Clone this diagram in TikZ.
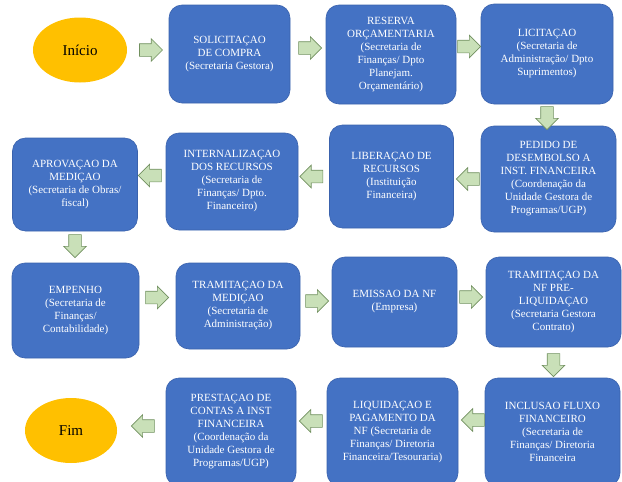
\documentclass[tikz,border=0pt]{standalone}
\usepackage{fontspec}
\setmainfont{Liberation Serif}
\usepackage{xcolor}
\usepackage{tikz}
\usetikzlibrary{shapes.geometric}
\usetikzlibrary{shapes.arrows}
\usetikzlibrary {positioning}
\definecolor{stepblue}{HTML}{4472C4}
\definecolor{stepedge}{HTML}{3A62AD}
\definecolor{endyellow}{HTML}{FFC000}
\definecolor{arrowgreen}{HTML}{C9E0B8}
\definecolor{arrowedge}{HTML}{71905F}
\tikzset{step node/.style={rectangle,rounded corners=13pt,fill=stepblue,draw=stepedge,line width=0.6pt,text=white,align=center,inner sep=2pt,font=\fontsize{11}{13}\selectfont}}
\tikzset{end node/.style={ellipse,fill=endyellow,draw=none,inner sep=0pt,font=\fontsize{15}{17}\selectfont}}
\tikzset{flow arrow/.style={single arrow,fill=arrowgreen,draw=arrowedge,line width=0.6pt,inner sep=6pt,minimum height=23pt,minimum width=22pt,single arrow head extend=5pt}}

\begin{document}
\begin{tikzpicture}[x=1pt,y=-1pt]
	\useasboundingbox (0,0) rectangle (622,482);
	\clip (0,0) rectangle (622,482);
	\node[end node,minimum width=94pt,minimum height=65pt] (v_{1}) at (80,50) {Início};
	\node[step node,minimum width=121pt,minimum height=98pt] (v_{2}) at (229.5,54) {SOLICITAÇAO\\DE COMPRA\\(Secretaria Gestora)};
	\node[step node,minimum width=130pt,minimum height=99pt] (v_{3}) at (391,54.5) {RESERVA\\ORÇAMENTARIA\\(Secretaria de\\Finanças/ Dpto\\Planejam.\\Orçamentário)};
	\node[step node,minimum width=132pt,minimum height=100pt] (v_{4}) at (547,54) {LICITAÇAO\\(Secretaria de\\Administração/ Dpto\\Suprimentos)};
	\node[step node,minimum width=135pt,minimum height=106pt] (v_{5}) at (548.5,179) {PEDIDO DE\\DESEMBOLSO A\\INST. FINANCEIRA\\(Coordenação da\\Unidade Gestora de\\Programas/UGP)};
	\node[step node,minimum width=124pt,minimum height=103pt] (v_{6}) at (391.5,176.5) {LIBERAÇAO DE\\RECURSOS\\(Instituição\\Financeira)};
	\node[step node,minimum width=132pt,minimum height=97pt] (v_{7}) at (232,181.5) {INTERNALIZAÇAO\\DOS RECURSOS\\(Secretaria de\\Finanças/ Dpto.\\Financeiro)};
	\node[step node,minimum width=125pt,minimum height=93pt] (v_{8}) at (75,184.5) {APROVAÇAO DA\\MEDIÇAO\\(Secretaria de Obras/\\fiscal)};
	\node[step node,minimum width=127pt,minimum height=95pt] (v_{9}) at (75.5,310.5) {EMPENHO\\(Secretaria de\\Finanças/\\Contabilidade)};
	\node[step node,minimum width=124pt,minimum height=86pt] (v_{10}) at (238,306) {TRAMITAÇAO DA\\MEDIÇAO\\(Secretaria de\\Administração)};
	\node[step node,minimum width=125pt,minimum height=90pt] (v_{11}) at (394.5,302) {EMISSAO DA NF\\(Empresa)};
	\node[step node,minimum width=135pt,minimum height=90pt] (v_{12}) at (553.5,302) {TRAMITAÇAO DA\\NF PRE-\\LIQUIDAÇAO\\(Secretaria Gestora\\Contrato)};
	\node[step node,minimum width=135pt,minimum height=108pt] (v_{13}) at (552.5,432) {INCLUSAO FLUXO\\FINANCEIRO\\(Secretaria de\\Finanças/ Diretoria\\Financeira};
	\node[step node,minimum width=131pt,minimum height=108pt] (v_{14}) at (392.5,432) {LIQUIDAÇAO E\\PAGAMENTO DA\\NF (Secretaria de\\Finanças/ Diretoria\\Financeira/Tesouraria)};
	\node[step node,minimum width=130pt,minimum height=108pt] (v_{15}) at (231,432) {PRESTAÇAO DE\\CONTAS A INST\\FINANCEIRA\\(Coordenação da\\Unidade Gestora de\\Programas/UGP)};
	\node[end node,minimum width=92pt,minimum height=65pt] (v_{16}) at (71,430.5) {Fim};

	\node[flow arrow] (a_{1}) [right = 12pt of v_{1}] {};
	\node[flow arrow,yshift=6pt] (a_{2}) [right = 8pt of v_{2}] {};
	\node[flow arrow,yshift=8pt] (a_{3}) [right = 1pt of v_{3}] {};
	\node[flow arrow,shape border rotate=270] (a_{4}) [below = 2pt of v_{4}] {};
	\node[flow arrow,shape border rotate=180] (a_{5}) [left = 1pt of v_{5}] {};
	\node[flow arrow,shape border rotate=180] (a_{6}) [left = 6pt of v_{6}] {};
	\node[flow arrow,shape border rotate=180,yshift=6pt] (a_{7}) [left = 4pt of v_{7}] {};
	\node[flow arrow,shape border rotate=270] (a_{8}) [below = 3pt of v_{8}] {};
	\node[flow arrow,yshift=13pt] (a_{9}) [right = 6pt of v_{9}] {};
	\node[flow arrow,yshift=5pt] (a_{10}) [right = 5pt of v_{10}] {};
	\node[flow arrow,yshift=5pt] (a_{11}) [right = 2pt of v_{11}] {};
	\node[flow arrow,shape border rotate=270] (a_{12}) [below = 6pt of v_{12}] {};
	\node[flow arrow,shape border rotate=180,yshift=12pt] (a_{13}) [left = 0pt of v_{13}] {};
	\node[flow arrow,shape border rotate=180,yshift=11pt] (a_{14}) [left = 4pt of v_{14}] {};
	\node[flow arrow,shape border rotate=180,yshift=6pt] (a_{15}) [left = 11pt of v_{15}] {};
\end{tikzpicture}
\end{document}
